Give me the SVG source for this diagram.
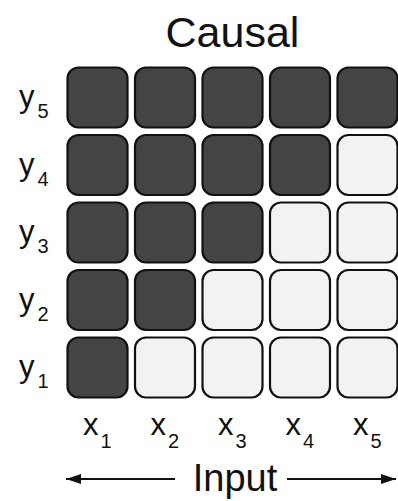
<svg xmlns="http://www.w3.org/2000/svg" width="398" height="501" viewBox="0 0 398 501">
<defs>
<style>
.c{stroke:#111;stroke-width:2.2}
.d{fill:#444}
.l{fill:#f2f2f2}
text{font-family:"Liberation Sans",Arial,sans-serif;fill:#111}
.lab{font-size:31px}
.sub{font-size:20px}
.ax{stroke:#111;stroke-width:2.2;fill:none}
</style>
<marker id="ah" viewBox="0 0 15 10" refX="15" refY="5" markerWidth="15" markerHeight="10" markerUnits="userSpaceOnUse" orient="auto-start-reverse"><path d="M0,0 L15,5 L0,10 Z" fill="#111"/></marker>
</defs>
<rect width="398" height="501" fill="#fff"/>
<text x="232.5" y="47" font-size="43" text-anchor="middle">Causal</text>
<g id="row5">
<rect class="c d" x="67.5" y="67.5" width="60" height="60" rx="11"/>
<rect class="c d" x="135" y="67.5" width="60" height="60" rx="11"/>
<rect class="c d" x="202.5" y="67.5" width="60" height="60" rx="11"/>
<rect class="c d" x="270" y="67.5" width="60" height="60" rx="11"/>
<rect class="c d" x="337.5" y="67.5" width="60" height="60" rx="11"/>
</g>
<g id="row4">
<rect class="c d" x="67.5" y="135" width="60" height="60" rx="11"/>
<rect class="c d" x="135" y="135" width="60" height="60" rx="11"/>
<rect class="c d" x="202.5" y="135" width="60" height="60" rx="11"/>
<rect class="c d" x="270" y="135" width="60" height="60" rx="11"/>
<rect class="c l" x="337.5" y="135" width="60" height="60" rx="11"/>
</g>
<g id="row3">
<rect class="c d" x="67.5" y="202.5" width="60" height="60" rx="11"/>
<rect class="c d" x="135" y="202.5" width="60" height="60" rx="11"/>
<rect class="c d" x="202.5" y="202.5" width="60" height="60" rx="11"/>
<rect class="c l" x="270" y="202.5" width="60" height="60" rx="11"/>
<rect class="c l" x="337.5" y="202.5" width="60" height="60" rx="11"/>
</g>
<g id="row2">
<rect class="c d" x="67.5" y="270" width="60" height="60" rx="11"/>
<rect class="c d" x="135" y="270" width="60" height="60" rx="11"/>
<rect class="c l" x="202.5" y="270" width="60" height="60" rx="11"/>
<rect class="c l" x="270" y="270" width="60" height="60" rx="11"/>
<rect class="c l" x="337.5" y="270" width="60" height="60" rx="11"/>
</g>
<g id="row1">
<rect class="c d" x="67.5" y="337.5" width="60" height="60" rx="11"/>
<rect class="c l" x="135" y="337.5" width="60" height="60" rx="11"/>
<rect class="c l" x="202.5" y="337.5" width="60" height="60" rx="11"/>
<rect class="c l" x="270" y="337.5" width="60" height="60" rx="11"/>
<rect class="c l" x="337.5" y="337.5" width="60" height="60" rx="11"/>
</g>
<g id="ylabels">
<text class="lab" x="19" y="107">y<tspan class="sub" dx="3" dy="11">5</tspan></text>
<text class="lab" x="19" y="174.5">y<tspan class="sub" dx="3" dy="11">4</tspan></text>
<text class="lab" x="19" y="242">y<tspan class="sub" dx="3" dy="11">3</tspan></text>
<text class="lab" x="19" y="309.5">y<tspan class="sub" dx="3" dy="11">2</tspan></text>
<text class="lab" x="19" y="377">y<tspan class="sub" dx="3" dy="11">1</tspan></text>
</g>
<g id="xlabels">
<text class="lab" x="83" y="435">x<tspan class="sub" dx="2" dy="13">1</tspan></text>
<text class="lab" x="150.5" y="435">x<tspan class="sub" dx="2" dy="13">2</tspan></text>
<text class="lab" x="218" y="435">x<tspan class="sub" dx="2" dy="13">3</tspan></text>
<text class="lab" x="285.5" y="435">x<tspan class="sub" dx="2" dy="13">4</tspan></text>
<text class="lab" x="353" y="435">x<tspan class="sub" dx="2" dy="13">5</tspan></text>
</g>
<g id="connectors">
<line class="ax" x1="175" y1="479" x2="66" y2="479" marker-end="url(#ah)"/>
<line class="ax" x1="287" y1="479" x2="396" y2="479" marker-end="url(#ah)"/>
</g>
<text x="235" y="491" font-size="38" text-anchor="middle">Input</text>
</svg>
